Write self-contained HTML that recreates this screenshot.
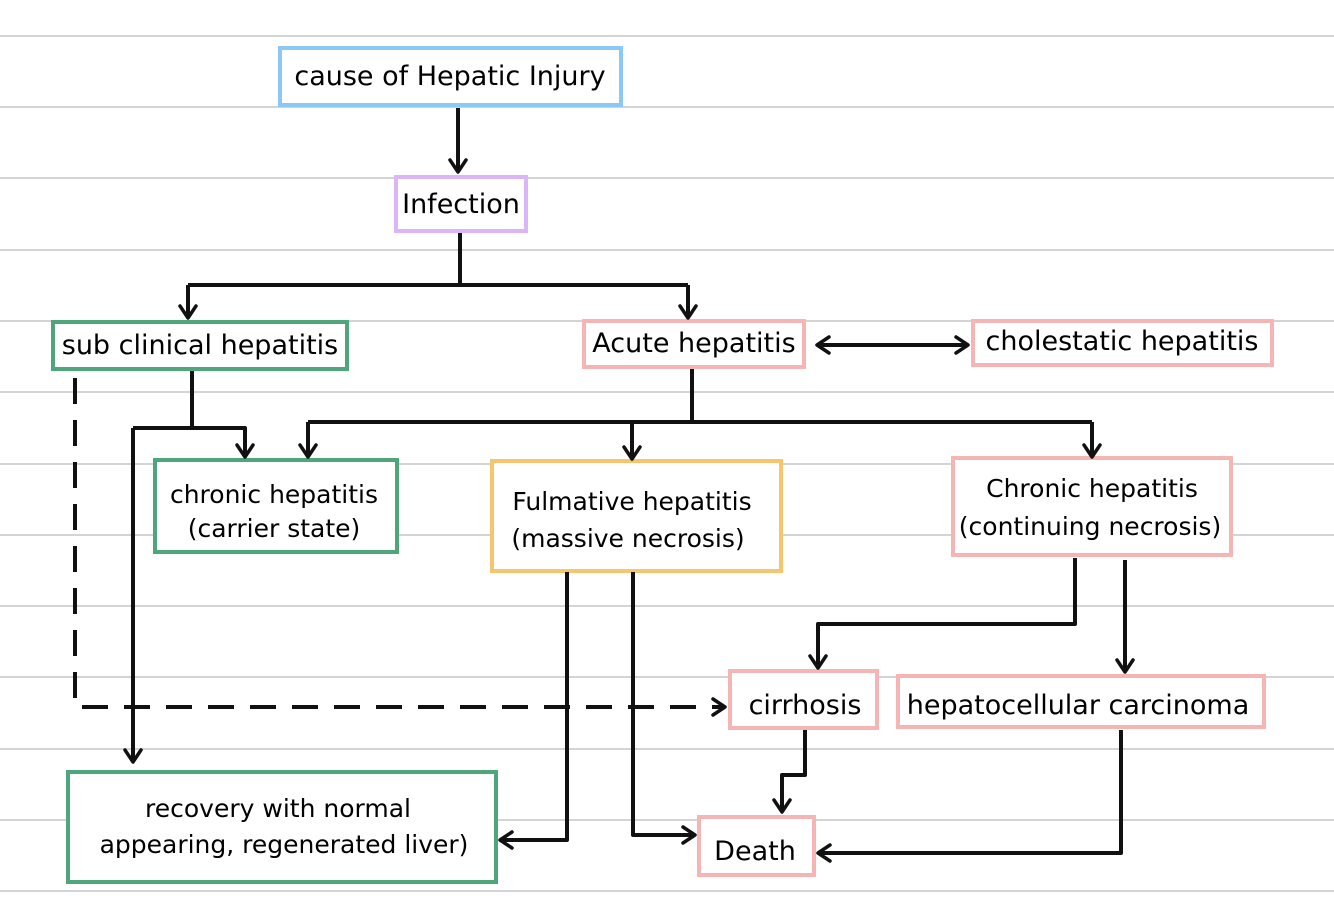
<!DOCTYPE html>
<html><head><meta charset="utf-8"><style>
html,body{margin:0;padding:0;background:#fff}
svg{display:block}
text{font-family:"DejaVu Sans","Liberation Sans",sans-serif;fill:#000}
</style></head><body>
<svg width="1334" height="921" viewBox="0 0 1334 921" xmlns="http://www.w3.org/2000/svg">
<defs>
<marker id="a" viewBox="0 0 20 20" refX="16" refY="10" markerWidth="20" markerHeight="20" markerUnits="userSpaceOnUse" orient="auto">
<polyline points="4,2 16,10 4,18" fill="none" stroke="#111" stroke-width="3.5" stroke-linecap="round" stroke-linejoin="round"/>
</marker>
<marker id="s" viewBox="0 0 20 20" refX="4" refY="10" markerWidth="20" markerHeight="20" markerUnits="userSpaceOnUse" orient="auto">
<polyline points="16,2 4,10 16,18" fill="none" stroke="#111" stroke-width="3.5" stroke-linecap="round" stroke-linejoin="round"/>
</marker>
</defs>
<g stroke="#d4d4d4" stroke-width="2">
<line x1="0" y1="36" x2="1334" y2="36"/><line x1="0" y1="107" x2="1334" y2="107"/>
<line x1="0" y1="178" x2="1334" y2="178"/><line x1="0" y1="250" x2="1334" y2="250"/>
<line x1="0" y1="321" x2="1334" y2="321"/><line x1="0" y1="392" x2="1334" y2="392"/>
<line x1="0" y1="464" x2="1334" y2="464"/><line x1="0" y1="535" x2="1334" y2="535"/>
<line x1="0" y1="606" x2="1334" y2="606"/><line x1="0" y1="677" x2="1334" y2="677"/>
<line x1="0" y1="749" x2="1334" y2="749"/><line x1="0" y1="820" x2="1334" y2="820"/>
<line x1="0" y1="891" x2="1334" y2="891"/>
</g>
<g fill="#fff" stroke-width="4">
<rect x="280" y="48" width="341" height="57" stroke="#8cc8f5"/>
<rect x="396" y="177" width="130" height="54" stroke="#dbb5f7"/>
<rect x="53" y="322" width="294" height="47" stroke="#4fa67a"/>
<rect x="584" y="321" width="220" height="46" stroke="#f5b5b5"/>
<rect x="973" y="321" width="299" height="44" stroke="#f5b5b5"/>
<rect x="155" y="460" width="242" height="92" stroke="#4fa67a"/>
<rect x="492" y="461" width="289" height="110" stroke="#f7c56e"/>
<rect x="953" y="458" width="278" height="97" stroke="#f5b5b5"/>
<rect x="730" y="671" width="147" height="57" stroke="#f5b5b5"/>
<rect x="898" y="676" width="366" height="51" stroke="#f5b5b5"/>
<rect x="68" y="772" width="428" height="110" stroke="#4fa67a"/>
<rect x="699" y="817" width="115" height="58" stroke="#f5b5b5"/>
</g>
<g fill="none" stroke="#111" stroke-width="4" stroke-linejoin="round">
<path d="M458 108 V172" marker-end="url(#a)"/>
<path d="M460 233 V285"/>
<path d="M188 285 H688"/>
<path d="M188 285 V318" marker-end="url(#a)"/>
<path d="M688 285 V318" marker-end="url(#a)"/>
<path d="M817 345 H968" marker-start="url(#s)" marker-end="url(#a)"/>
<path d="M192 371 V428"/>
<path d="M133 428 H245 V457" marker-end="url(#a)"/>
<path d="M133 428 V762" marker-end="url(#a)"/>
<path d="M75 378 V707 H725" stroke-dasharray="26 16" marker-end="url(#a)"/>
<path d="M692 369 V422"/>
<path d="M308 422 H1092"/>
<path d="M308 422 V457" marker-end="url(#a)"/>
<path d="M632 422 V459" marker-end="url(#a)"/>
<path d="M1092 422 V457" marker-end="url(#a)"/>
<path d="M567 572 V840 H500" marker-end="url(#a)"/>
<path d="M633 572 V835 H695" marker-end="url(#a)"/>
<path d="M1075 558 V624 H818 V668" marker-end="url(#a)"/>
<path d="M1125 560 V672" marker-end="url(#a)"/>
<path d="M805 730 V775 H782 V812" marker-end="url(#a)"/>
<path d="M1121 730 V853 H818" marker-end="url(#a)"/>
</g>
<g font-size="27">
<text x="450" y="85" text-anchor="middle">cause of Hepatic Injury</text>
<text x="461" y="213" text-anchor="middle">Infection</text>
<text x="200" y="354" text-anchor="middle">sub clinical hepatitis</text>
<text x="694" y="352" text-anchor="middle">Acute  hepatitis</text>
<text x="1122" y="350" text-anchor="middle">cholestatic  hepatitis</text>
<text x="274" y="503" text-anchor="middle" font-size="25">chronic hepatitis</text>
<text x="274" y="537" text-anchor="middle" font-size="25">(carrier state)</text>
<text x="632" y="510" text-anchor="middle" font-size="25">Fulmative  hepatitis</text>
<text x="628" y="547" text-anchor="middle" font-size="25">(massive necrosis)</text>
<text x="1092" y="497" text-anchor="middle" font-size="25">Chronic  hepatitis</text>
<text x="1090" y="535" text-anchor="middle" font-size="25">(continuing necrosis)</text>
<text x="805" y="714" text-anchor="middle">cirrhosis</text>
<text x="1078" y="714" text-anchor="middle">hepatocellular  carcinoma</text>
<text x="278" y="817" text-anchor="middle" font-size="25">recovery with normal</text>
<text x="284" y="853" text-anchor="middle" font-size="25">appearing, regenerated liver)</text>
<text x="755" y="860" text-anchor="middle">Death</text>
</g>
</svg>
</body></html>
